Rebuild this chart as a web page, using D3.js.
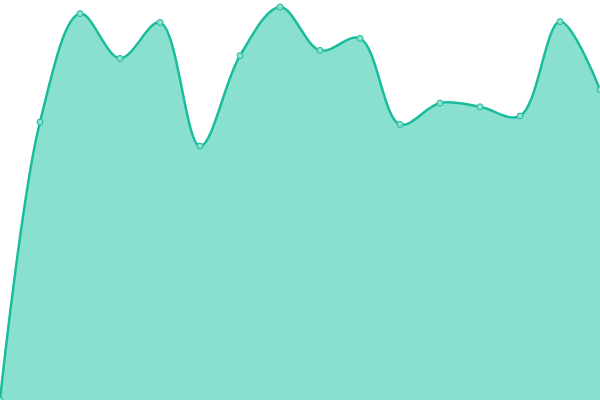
<!DOCTYPE html>
<html lang="en">
<head>
<meta charset="utf-8">
<title>Area</title>
<script src="https://d3js.org/d3.v7.min.js"></script>
<style>
  html, body { margin: 0; padding: 0; background: #fff; }
  svg { display: block; }
</style>
</head>
<body>
<div id="chart"></div>
<script>
var steps = [0, 1, 2, 3, 4, 5, 6, 7, 8, 9, 10, 11, 12, 13, 14, 15]
var values = [0, 69.5, 96.6, 85.4, 94.4, 63.5, 86.1, 98.25, 87.4, 90.4, 68.9, 74.25, 73.3, 71, 94.6, 77.6]

var w = 600
var h = 400

var data = steps.map(function(s, i) { return { step: s, value: values[i] } })

var svg = d3.select("#chart")
  .append("svg")
  .attr("width", w)
  .attr("height", h)

var xScale = d3.scaleLinear()
  .domain([0, 15])
  .range([0, w])

var yScale = d3.scaleLinear()
  .domain([0, 100])
  .range([h, 0])

var area = d3.area()
  .x(function(d) { return xScale(d.step) })
  .y0(h)
  .y1(function(d) { return yScale(d.value) })
  .curve(d3.curveCatmullRom)

var line = d3.line()
  .x(function(d) { return xScale(d.step) })
  .y(function(d) { return yScale(d.value) })
  .curve(d3.curveCatmullRom)

svg.append("path")
  .datum(data)
  .attr("d", area)
  .style("fill", "#89e0cf")

svg.append("path")
  .datum(data)
  .attr("d", line)
  .style("fill", "none")
  .style("stroke", "#1abc9c")
  .style("stroke-width", 2.5)

svg.selectAll("circle")
  .data(data)
  .enter()
  .append("circle")
  .attr("cx", function(d) { return xScale(d.step) })
  .attr("cy", function(d) { return yScale(d.value) })
  .attr("r", 3)
  .style("fill", "#8ddfcf")
  .style("stroke", "#1abc9c")
  .style("stroke-width", 1)
</script>
</body>
</html>
